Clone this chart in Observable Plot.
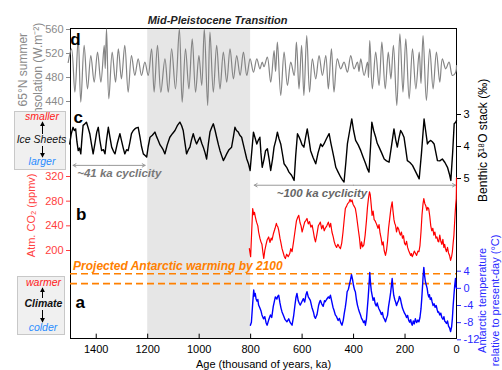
<!DOCTYPE html>
<html><head><meta charset="utf-8">
<script src="https://cdn.jsdelivr.net/npm/d3@7"></script>
<script src="https://cdn.jsdelivr.net/npm/@observablehq/plot@0.6"></script>
<style>
body{margin:0;background:#fff;font-family:"Liberation Sans",Arial,sans-serif;}
#wrap{position:relative;width:502px;height:370px;overflow:hidden;}
#wrap svg{position:absolute;left:0;top:0;background:transparent !important;overflow:visible;}
</style></head><body><div id="wrap"></div>
<script>
// ---------- data ----------
const xTicks = [1400,1200,1000,800,600,400,200,0];
const mptBand = [1200, 800];
const insolTicks = [440,480,520,560];
const co2Ticks = [200,240,280,320];
const d18Ticks = [3,4,5];
const tempTicks = [-12,-8,-4,0,4];
const warming2100 = [3.4, 1.1];
const cyc41 = [1490, 1210];
const cyc100 = [786, 4];

// [age ka, W/m2]
const insolation = [
[1509,505],[1496,527.8],[1483,455.6],[1470,544.5],[1460,438.9],[1447,533.4],[1434,461.1],[1421,516.7],[1408,472.2],[1395,522.3],[1382,472.2],[1369,533.4],[1365,495],[1360,561.1],[1351,444.5],[1338,522.3],[1325,472.2],[1314,527.8],[1302,477.8],[1289,533.4],[1276,455.6],[1263,516.7],[1250,483.4],[1237,511.1],[1224,483.4],[1211,505.6],[1198,483.4],[1185,527.8],[1175,455.6],[1162,533.4],[1149,455.6],[1133,511.1],[1120,455.6],[1107,527.8],[1092,461.1],[1077,561.1],[1066,438.9],[1053,527.8],[1040,461.1],[1027,544.5],[1014,455.6],[1001,516.7],[990,466.7],[980,561.1],[967,433.4],[958,555.6],[945,455.6],[932,533.4],[919,461.1],[906,522.3],[893,472.2],[880,527.8],[867,477.8],[854,516.7],[841,483.4],[828,522.3],[815,483.4],[802,511.1],[789,488.9],[776,511.1],[764,494.5],[755,505.6],[748,498],[735,513.9],[722,472.2],[709,525.0],[703,490],[696,538.9],[683,450.0],[670,522.3],[657,466.7],[644,505.6],[631,483.4],[622,538.9],[612,461.1],[602,533.4],[593,450.0],[582,550.0],[571,455.6],[560,511.1],[547,477.8],[534,516.7],[521,483.4],[508,516.7],[498,461.1],[486,527.8],[476,455.6],[463,511.1],[450,494.5],[437,505.6],[424,488.9],[411,516.7],[398,494.5],[385,505.6],[379,490],[372,511.1],[359,483.4],[346,505.6],[342,480],[337,541.7],[327,461.1],[314,522.3],[301,466.7],[290,538.9],[277,461.1],[265,522.3],[255,477.8],[245,533.4],[232,433.4],[220,552.8],[208,455.6],[197,544.5],[184,444.5],[171,527.8],[158,461.1],[145,522.3],[138,470],[130,550.0],[117,441.7],[104,527.8],[91,461.1],[78,522.3],[65,472.2],[55,511.1],[42,494.5],[29,505.6],[16,483.4],[3,488.9],[0,500]
];

// [age ka, benthic d18O permil]
const benthic = [
[1503,3.92],[1497,3.6],[1490,3.40],[1485,3.5],[1480,3.45],[1475,3.85],[1470,4.13],[1465,4.05],[1460,4.23],[1455,3.7],[1451,3.34],[1445,3.3],[1438,3.24],[1432,3.4],[1425,3.60],[1419,3.9],[1412,4.23],[1405,3.9],[1398,3.55],[1392,3.40],[1386,3.8],[1379,4.13],[1372,4.1],[1366,4.23],[1360,3.8],[1353,3.40],[1347,3.7],[1340,4.02],[1333,4.15],[1327,4.23],[1318,3.9],[1308,3.60],[1302,3.81],[1295,4.05],[1289,4.23],[1282,4.1],[1276,4.13],[1270,3.9],[1263,3.60],[1256,3.5],[1250,3.45],[1244,3.42],[1237,3.40],[1230,3.71],[1224,4.0],[1217,4.23],[1210,4.28],[1204,4.33],[1198,4.0],[1191,3.71],[1182,3.65],[1172,3.55],[1165,3.7],[1159,3.81],[1152,3.95],[1146,4.02],[1140,4.1],[1133,4.23],[1124,3.95],[1114,3.71],[1104,3.6],[1094,3.50],[1085,3.35],[1075,3.24],[1068,3.35],[1062,3.50],[1055,3.9],[1049,4.23],[1042,4.1],[1036,4.02],[1030,3.8],[1023,3.60],[1016,3.8],[1010,3.92],[1003,3.8],[997,3.71],[990,3.9],[984,4.02],[977,4.2],[971,4.39],[964,3.9],[958,3.55],[951,3.4],[945,3.29],[938,3.5],[932,3.71],[925,3.95],[919,4.13],[912,4.3],[906,4.44],[900,4.35],[893,4.23],[884,4.1],[874,4.02],[867,3.7],[861,3.40],[855,3.5],[848,3.55],[842,3.65],[835,3.71],[825,4.05],[815,4.39],[808,4.55],[802,4.75],[795,4.1],[789,3.55],[782,3.75],[776,3.92],[770,3.8],[764,3.71],[760,4.2],[755,4.65],[748,4.4],[742,4.13],[735,4.07],[728,4.4],[722,4.75],[715,4.4],[709,4.02],[702,3.8],[696,3.55],[690,3.75],[683,3.92],[676,4.25],[670,4.54],[660,4.65],[651,4.80],[641,4.9],[631,5.06],[625,4.3],[618,3.60],[612,3.7],[606,3.81],[600,3.95],[593,4.02],[586,3.7],[580,3.45],[573,3.8],[567,4.13],[557,4.35],[547,4.54],[538,4.2],[528,3.92],[521,4.0],[515,3.92],[505,3.75],[495,3.60],[488,3.9],[482,4.13],[475,4.4],[469,4.65],[460,4.8],[450,4.96],[443,5.05],[437,5.11],[430,4.5],[424,3.92],[415,3.5],[407,3.14],[400,3.5],[392,3.81],[382,3.95],[372,4.13],[362,4.35],[353,4.54],[346,4.7],[340,4.80],[334,4.0],[329,3.24],[322,3.5],[314,3.71],[308,3.9],[301,4.02],[291,4.2],[281,4.39],[272,4.45],[262,4.49],[252,3.95],[243,3.45],[236,3.8],[230,4.02],[224,3.75],[217,3.50],[210,3.6],[204,3.71],[197,4.1],[191,4.44],[181,4.5],[171,4.59],[158,4.8],[145,5.01],[136,4.2],[126,3.14],[120,3.5],[113,3.92],[107,3.85],[100,3.81],[94,3.85],[87,3.92],[80,4.2],[74,4.44],[65,4.45],[55,4.39],[45,4.5],[35,4.65],[28,4.85],[22,5.06],[15,4.2],[9,3.29],[4,3.25],[0,3.19]
];

// [age ka, CO2 ppmv]
const co2 = [
[805,203],[800,190],[796,230],[792,268],[788,258],[785,262],[782,255],[777,246],[772,240],[769,230],[764,220],[760,214],[756,210],[752,196],[749,187],[745,200],[740,210],[736,217],[730,222],[725,213],[720,220],[717,217],[711,228],[705,236],[700,244],[698,241],[694,238],[691,233],[686,220],[682,212],[678,203],[673,196],[669,190],[665,187],[660,194],[654,190],[648,195],[644,203],[639,198],[634,212],[628,230],[622,248],[617,254],[613,257],[608,245],[604,240],[600,230],[595,238],[590,246],[585,249],[581,252],[576,243],[571,247],[566,238],[561,241],[556,230],[552,220],[548,214],[543,225],[537,240],[533,243],[529,246],[524,235],[519,241],[514,232],[510,236],[504,240],[498,246],[493,238],[489,244],[484,230],[479,222],[475,214],[471,209],[466,205],[461,210],[456,206],[451,203],[446,212],[441,230],[436,252],[432,268],[427,272],[423,276],[418,278],[414,283],[410,279],[406,282],[402,275],[398,272],[393,268],[389,258],[385,245],[381,232],[377,220],[373,203],[369,214],[365,206],[360,209],[355,225],[350,248],[346,270],[342,285],[338,295],[335,290],[331,272],[328,257],[324,264],[320,250],[316,248],[312,244],[309,241],[305,236],[301,242],[297,228],[293,220],[289,209],[285,214],[281,200],[276,192],[272,200],[268,215],[264,236],[260,250],[255,268],[250,279],[247,265],[243,250],[240,244],[237,241],[233,230],[229,238],[225,235],[221,228],[218,225],[214,230],[210,220],[206,224],[202,212],[198,209],[194,215],[190,205],[186,200],[182,196],[178,192],[175,195],[172,190],[168,194],[164,199],[160,196],[155,192],[150,199],[146,198],[142,208],[138,230],[134,258],[130,276],[127,284],[123,276],[119,272],[115,265],[112,270],[108,268],[104,256],[100,240],[96,232],[92,236],[88,225],[84,230],[80,220],[76,222],[72,215],[69,214],[65,225],[61,215],[57,210],[53,218],[49,205],[46,210],[43,203],[39,198],[35,205],[31,196],[27,192],[23,184],[19,190],[16,198],[13,212],[10,225],[8,240],[5,262],[3,275],[1,284],[0.3,300],[0,318]
];

// [age ka, Antarctic temperature anomaly degC]
const temperature = [
[801,-8.6],[797,-7.9],[792,-3.5],[788,-0.4],[785,-1.8],[782,-1.2],[779,-2.4],[775,-3.0],[772,-2.6],[769,-3.9],[764,-4.6],[760,-5.2],[756,-6.2],[750,-7.1],[745,-6.6],[740,-8.0],[736,-8.6],[730,-7.4],[723,-6.2],[718,-6.8],[712,-4.2],[708,-3.1],[704,-2.0],[698,-2.5],[695,-1.9],[691,-1.6],[686,-3.4],[682,-4.6],[678,-5.5],[672,-6.4],[666,-7.3],[659,-7.8],[652,-7.1],[646,-8.0],[639,-8.6],[633,-6.5],[628,-4.0],[624,-2.2],[620,-1.2],[615,-2.9],[611,-3.5],[607,-3.9],[600,-3.0],[595,-2.4],[590,-3.2],[585,-1.5],[581,-0.8],[576,-2.0],[572,-2.4],[568,-2.8],[562,-4.4],[556,-5.5],[552,-6.6],[548,-7.0],[542,-6.1],[536,-4.0],[532,-3.2],[529,-2.8],[524,-3.6],[518,-4.2],[513,-2.9],[510,-3.1],[505,-2.6],[498,-2.0],[494,-2.3],[490,-1.6],[485,-3.0],[480,-4.4],[476,-5.1],[471,-6.2],[466,-6.6],[460,-7.5],[455,-7.0],[450,-8.0],[445,-8.6],[440,-7.4],[436,-5.8],[432,-4.4],[428,-2.6],[425,-0.8],[420,-0.2],[416,0.9],[412,2.0],[408,3.2],[404,2.1],[400,0.6],[396,-0.4],[393,-0.8],[389,-2.6],[385,-3.9],[381,-4.8],[377,-5.6],[373,-6.2],[369,-7.0],[365,-7.4],[361,-8.0],[357,-7.6],[354,-8.6],[350,-7.2],[347,-5.0],[343,-2.0],[340,0.8],[337,3.7],[334,1.1],[331,-0.6],[328,-1.6],[324,-2.8],[320,-2.2],[316,-3.6],[312,-4.1],[308,-3.4],[305,-4.2],[302,-4.7],[297,-5.3],[292,-6.1],[288,-5.6],[284,-6.8],[280,-7.2],[276,-7.8],[272,-7.0],[268,-6.3],[264,-4.2],[260,-2.7],[256,-1.0],[253,0.6],[250,2.3],[247,0.1],[244,-1.6],[240,-2.6],[237,-3.1],[233,-4.0],[229,-3.3],[225,-2.8],[222,-1.9],[218,-2.4],[214,-3.6],[210,-4.6],[206,-5.2],[202,-5.8],[198,-6.2],[194,-6.8],[190,-6.3],[186,-7.4],[182,-7.9],[178,-7.3],[175,-8.2],[172,-8.6],[168,-7.6],[164,-8.3],[160,-7.1],[155,-8.0],[150,-7.4],[146,-7.8],[142,-6.8],[138,-4.8],[135,-2.4],[132,0.5],[130,2.6],[127,4.9],[124,3.0],[121,1.6],[118,0.9],[114,0.0],[111,-1.3],[108,-2.0],[105,-1.5],[102,-2.6],[98,-2.2],[95,-3.1],[91,-4.0],[87,-3.6],[83,-4.4],[79,-4.0],[75,-5.0],[72,-5.6],[69,-5.5],[65,-6.2],[61,-5.8],[57,-6.8],[53,-7.2],[49,-6.6],[46,-7.6],[43,-7.8],[39,-8.2],[35,-7.6],[31,-8.8],[27,-9.2],[23,-10.1],[19,-9.0],[16,-7.0],[13,-4.0],[10,-1.6],[7,0.6],[4,2.3],[2,0.4],[0,0.0]
];

// ---------- drawing ----------
const W = 502, H = 370, ML = 70, MR = 46;
const FONT = "Liberation Sans, Arial, Helvetica, sans-serif";
const wrap = document.getElementById("wrap");
const ax = d => d[0], vy = d => d[1];
const fmt = d => String(d);
function layer(o) {
  const p = Plot.plot(Object.assign({
    width: W, height: H, marginLeft: ML, marginRight: MR,
    style: {background: "transparent", fontFamily: FONT, fontSize: "11px", overflow: "visible"}
  }, o));
  wrap.appendChild(p);
}
const vlabel = {rotate: -90, textAnchor: "middle", lineAnchor: "middle", fontSize: 12};

// base: shading, frame, x axis, MPT title
layer({
  marginTop: 28, marginBottom: 32,
  x: {domain: [1500, 0]},
  y: {domain: [0, 1], axis: null},
  marks: [
    Plot.rect([mptBand], {x1: d => d[0], x2: d => d[1], y1: 0, y2: 1, fill: "#e6e6e6"}),
    Plot.ruleX(xTicks, {x: d => d, y1: 0, y2: 0.014, stroke: "#000"}),
    Plot.axisX({ticks: xTicks, tickSize: 0, tickPadding: 7, fontSize: 11, tickFormat: fmt,
      label: "Age (thousand of years, ka)", labelAnchor: "center", labelArrow: "none", labelOffset: 29}),
    Plot.frame({stroke: "#000", strokeWidth: 1}),
    Plot.text(["Mid-Pleistocene Transition"], {x: 1200, y: 1.025, text: d => d, textAnchor: "start",
      fontStyle: "italic", fontWeight: "bold", fontSize: 11, fill: "#222"})
  ]
});

// d: insolation
layer({
  marginTop: 29, marginBottom: H - 101,
  x: {domain: [1500, 0], axis: null},
  y: {domain: [440, 560], axis: null},
  marks: [
    Plot.line(insolation, {x: ax, y: vy, stroke: "#858585", strokeWidth: 1.2, curve: "catmull-rom"}),
    Plot.axisY({anchor: "left", ticks: insolTicks, tickSize: 4, tickPadding: 3, fontSize: 11, color: "#8a8a8a", tickFormat: fmt, label: null}),
    Plot.text(["65°N summer\ninsolation (W.m⁻²)"], {...vlabel, frameAnchor: "left", dx: -41, y: 493, text: d => d,
      fill: "#8a8a8a", lineHeight: 1.3}),
    Plot.text(["d"], {x: 1481, y: 543, text: d => d, fontSize: 17, fontWeight: "bold", fill: "#000"})
  ]
});

// c: benthic d18O
layer({
  marginTop: 114, marginBottom: H - 178,
  x: {domain: [1500, 0], axis: null},
  y: {domain: [3, 5], reverse: true, axis: null},
  marks: [
    Plot.line(benthic, {x: ax, y: vy, stroke: "#000", strokeWidth: 1.4}),
    Plot.axisY({anchor: "right", ticks: d18Ticks, tickSize: 4, tickPadding: 3, fontSize: 11, color: "#000", tickFormat: fmt, label: null}),
    Plot.text(["Benthic δ¹⁸O stack (‰)"], {...vlabel, frameAnchor: "right", dx: 27, y: 3.81, text: d => d, fill: "#000"}),
    Plot.text(["c"], {x: 1470, y: 3.09, text: d => d, fontSize: 17, fontWeight: "bold", fill: "#000"}),
    Plot.arrow([cyc41], {x1: 1350, x2: d => d[0], y1: 4.59, y2: 4.59, stroke: "#999", strokeWidth: 1, headLength: 5}),
    Plot.arrow([cyc41], {x1: 1350, x2: d => d[1], y1: 4.59, y2: 4.59, stroke: "#999", strokeWidth: 1, headLength: 5}),
    Plot.text(["~41 ka cyclicity"], {x: 1474, y: 4.84, text: d => d, textAnchor: "start", fill: "#777",
      fontStyle: "italic", fontWeight: "bold", fontSize: 11.5}),
    Plot.arrow([cyc100], {x1: 400, x2: d => d[0], y1: 5.21, y2: 5.21, stroke: "#999", strokeWidth: 1, headLength: 5}),
    Plot.arrow([cyc100], {x1: 400, x2: d => d[1], y1: 5.21, y2: 5.21, stroke: "#999", strokeWidth: 1, headLength: 5}),
    Plot.text(["~100 ka cyclicity"], {x: 523, y: 5.47, text: d => d, fill: "#666",
      fontStyle: "italic", fontWeight: "bold", fontSize: 11.5})
  ]
});

// b: CO2
layer({
  marginTop: 176, marginBottom: H - 250,
  x: {domain: [1500, 0], axis: null},
  y: {domain: [200, 320], axis: null},
  marks: [
    Plot.line(co2, {x: ax, y: vy, stroke: "#ff0000", strokeWidth: 1.2}),
    Plot.axisY({anchor: "left", ticks: co2Ticks, tickSize: 4, tickPadding: 3, fontSize: 11, color: "#ff4040", tickFormat: fmt, label: null}),
    Plot.text(["Atm. CO₂ (ppmv)"], {...vlabel, fontSize: 11, frameAnchor: "left", dx: -39, y: 257, text: d => d, fill: "#ff4040"}),
    Plot.text(["b"], {x: 1458, y: 258, text: d => d, fontSize: 17, fontWeight: "bold", fill: "#000"})
  ]
});

// a: Antarctic temperature
layer({
  marginTop: 270.7, marginBottom: H - 339.3,
  x: {domain: [1500, 0], axis: null},
  y: {domain: [-12, 4], axis: null},
  marks: [
    Plot.ruleY(warming2100, {y: d => d, stroke: "#ff8000", strokeWidth: 1.6, strokeDasharray: "7,4"}),
    Plot.text(["Projected Antarctic warming by 2100"], {x: 1490, y: 5.1, text: d => d, textAnchor: "start",
      fill: "#ff8000", fontStyle: "italic", fontWeight: "bold", fontSize: 12}),
    Plot.line(temperature, {x: ax, y: vy, stroke: "#0000ff", strokeWidth: 1.4}),
    Plot.axisY({anchor: "right", ticks: tempTicks, tickSize: 4, tickPadding: 3, fontSize: 11, color: "#2a2aff", tickFormat: fmt, label: null}),
    Plot.text(["Antarctic temperature\nrelative to present-day (°C)"], {...vlabel, fontSize: 11, frameAnchor: "right", dx: 32, y: -2.8, text: d => d,
      fill: "#2a2aff", lineHeight: 1.2}),
    Plot.text(["a"], {x: 1462, y: -3.3, text: d => d, fontSize: 17, fontWeight: "bold", fill: "#000"})
  ]
});

// legend boxes (plain SVG, real text)
const ns = "http://www.w3.org/2000/svg";
const leg = document.createElementNS(ns, "svg");
leg.setAttribute("width", W); leg.setAttribute("height", H);
leg.setAttribute("font-family", FONT);
leg.innerHTML = `
<defs><marker id="ah" viewBox="0 0 6 6" refX="5" refY="3" markerWidth="5" markerHeight="5" orient="auto"><path d="M0,0L6,3L0,6z" fill="#000"/></marker></defs>
<rect x="14.5" y="111.5" width="51" height="58" fill="#f0f0f0" stroke="#c8c8c8"/>
<text x="42" y="120" text-anchor="middle" fill="#ff1a1a" font-style="italic" font-size="10.5">smaller</text>
<line x1="42.5" y1="134" x2="42.5" y2="122" stroke="#000" marker-end="url(#ah)"/>
<text x="41.5" y="143" text-anchor="middle" fill="#111" font-style="italic" font-size="10.5">Ice Sheets</text>
<line x1="42.5" y1="146" x2="42.5" y2="157" stroke="#000" marker-end="url(#ah)"/>
<text x="42" y="165" text-anchor="middle" fill="#2a8cff" font-style="italic" font-size="10.5">larger</text>
<rect x="17.5" y="276.5" width="47" height="58" fill="#f0f0f0" stroke="#c8c8c8"/>
<text x="43.5" y="286" text-anchor="middle" fill="#ff1a1a" font-style="italic" font-size="10.5">warmer</text>
<line x1="42.5" y1="298" x2="42.5" y2="288" stroke="#000" marker-end="url(#ah)"/>
<text x="43.5" y="307" text-anchor="middle" fill="#111" font-style="italic" font-weight="bold" font-size="10.5">Climate</text>
<line x1="42.5" y1="310" x2="42.5" y2="322" stroke="#000" marker-end="url(#ah)"/>
<text x="43" y="331" text-anchor="middle" fill="#2a8cff" font-style="italic" font-size="10.5">colder</text>`;
wrap.appendChild(leg);
</script>
</body></html>
